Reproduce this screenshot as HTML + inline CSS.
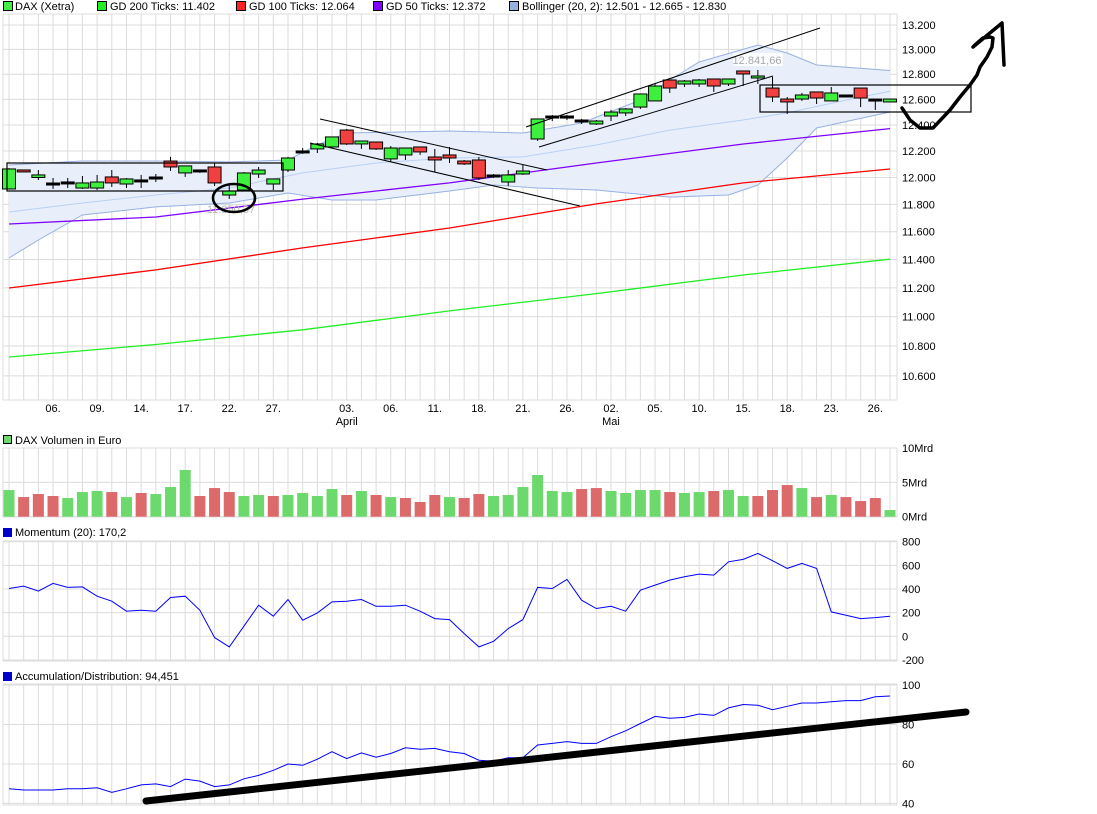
<!DOCTYPE html>
<html><head><meta charset="utf-8"><style>
body{margin:0;background:#fff;}
svg{display:block;font-family:"Liberation Sans",sans-serif;}
</style></head><body>
<svg id="c" width="1097" height="814" viewBox="0 0 1097 814"></svg>
<script>
// ---- data ----
const dates=["06.","09.","14.","17.","22.","27.","03.","06.","11.","18.","21.","26.","02.","05.","10.","15.","18.","23.","26."];
const dateIdx=[3,6,9,12,15,18,23,26,29,32,35,38,41,44,47,50,53,56,59];
const months=["April","Mai"];
const monthIdx=[23,41];
const opens=[11.914,12.049,12.0,11.951,11.959,11.921,11.921,12.004,11.951,11.974,11.996,12.124,12.034,12.049,12.079,11.869,11.906,12.026,11.951,12.056,12.193,12.216,12.231,12.361,12.254,12.269,12.140,12.170,12.231,12.147,12.170,12.124,12.132,12.011,11.966,12.026,12.292,12.462,12.462,12.431,12.408,12.470,12.494,12.540,12.588,12.754,12.722,12.722,12.762,12.722,12.818,12.770,12.690,12.603,12.603,12.659,12.588,12.627,12.690,12.595,12.580];
const closes=[12.064,12.045,12.019,11.951,11.959,11.959,11.966,11.959,11.989,11.974,11.996,12.079,12.087,12.049,11.959,11.899,12.034,12.056,11.989,12.147,12.193,12.254,12.308,12.254,12.269,12.216,12.223,12.223,12.193,12.132,12.147,12.102,11.996,12.011,12.019,12.041,12.447,12.462,12.462,12.431,12.431,12.501,12.525,12.643,12.706,12.690,12.746,12.754,12.706,12.762,12.802,12.786,12.619,12.580,12.635,12.611,12.651,12.627,12.611,12.595,12.603];
const highs=[12.07,12.052,12.056,11.996,11.996,12.011,12.019,12.056,11.996,12.019,12.026,12.155,12.087,12.056,12.109,11.944,12.041,12.079,11.989,12.155,12.223,12.262,12.308,12.369,12.269,12.269,12.238,12.223,12.231,12.216,12.231,12.132,12.155,12.026,12.056,12.094,12.447,12.478,12.478,12.447,12.439,12.517,12.533,12.643,12.722,12.754,12.754,12.762,12.762,12.762,12.818,12.834,12.778,12.619,12.651,12.659,12.698,12.635,12.690,12.603,12.603];
const lows=[11.91,12.04,11.981,11.914,11.921,11.914,11.906,11.929,11.921,11.921,11.966,12.049,12.004,12.034,11.936,11.840,11.899,11.996,11.906,12.041,12.178,12.185,12.223,12.246,12.216,12.208,12.117,12.132,12.170,12.041,12.109,12.094,11.981,11.996,11.936,12.019,12.277,12.431,12.439,12.408,12.400,12.431,12.470,12.525,12.588,12.651,12.698,12.698,12.659,12.706,12.706,12.722,12.580,12.486,12.588,12.564,12.588,12.619,12.540,12.517,12.595];
const maIdx=[0,10,20,30,40,50,60];
const gd200=[10.726,10.81,10.91,11.04,11.16,11.29,11.402];
const gd100=[11.199,11.326,11.483,11.627,11.803,11.959,12.064];
const gd50=[11.656,11.707,11.839,11.959,12.109,12.254,12.372];
const bbUpIdx=[0,5,10,15,19,21,23,30,35,39,43,45,47,51,53,55,60];
const bbUp=[12.094,12.124,12.124,12.117,12.132,12.246,12.338,12.354,12.338,12.416,12.595,12.754,12.898,13.036,12.971,12.874,12.83];
const bbLoIdx=[0,2,5,10,15,19,22,25,30,33,36,40,45,49,51,53,55,60];
const bbLo=[11.411,11.540,11.722,11.781,11.810,11.884,11.832,11.832,11.899,11.944,11.921,11.906,11.854,11.869,11.944,12.147,12.377,12.501];
const bbMidIdx=[0,5,10,15,20,25,30,35,40,45,50,53,57,60];
const bbMid=[11.744,11.810,11.869,11.921,12.034,12.109,12.147,12.155,12.246,12.361,12.439,12.494,12.595,12.665];
const priceTicks=[13.2,13.0,12.8,12.6,12.4,12.2,12.0,11.8,11.6,11.4,11.2,11.0,10.8,10.6];
const volumes=[3.88,2.86,3.30,3.01,2.72,3.59,3.74,3.59,2.86,3.45,3.30,4.32,6.80,3.01,4.17,3.59,3.01,3.16,3.01,3.16,3.45,3.01,4.03,3.16,3.74,3.16,2.86,2.72,2.14,3.16,2.86,2.72,3.30,3.01,3.16,4.32,6.07,3.74,3.59,4.03,4.17,3.74,3.45,3.88,3.88,3.59,3.45,3.59,3.74,3.88,3.01,3.01,3.88,4.61,4.17,2.86,3.16,2.86,2.28,2.72,0.97];
const volUp=[1,0,0,0,1,1,1,0,1,0,1,1,1,0,0,0,1,1,0,1,1,1,1,0,1,0,1,0,0,0,1,0,0,1,1,1,1,1,1,0,0,1,1,1,1,0,1,1,0,1,1,0,0,0,1,0,1,0,0,0,1];
const volTicks=[10,5,0];
const volTickLabels=["10Mrd","5Mrd","0Mrd"];
const momentum=[404,424,382,447,413,418,339,297,212,220,212,328,339,220,-11,-90,85,263,170,311,136,198,291,297,311,254,254,263,212,150,141,23,-90,-42,65,141,413,404,481,305,235,254,212,390,433,475,503,526,517,630,650,701,639,574,616,574,206,178,150,158,170];
const momTicks=[800,600,400,200,0,-200];
const adValues=[47.4,46.8,46.8,46.8,47.4,47.4,47.9,45.6,47.4,49.4,49.9,48.5,52.3,51.3,48.5,49.4,52.5,54.2,56.8,60.0,59.3,62.4,66.2,62.7,65.6,63.4,65.3,68.2,67.4,67.9,66.2,65.3,61.9,61.4,63.1,63.1,69.6,70.4,71.3,70.4,70.4,73.8,76.8,80.5,84.1,83.2,83.6,85.3,84.6,88.4,90.1,89.7,87.5,89.2,90.9,90.9,91.5,92.1,92.1,94.0,94.451];
const adTicks=[100,80,60,40];

// ---- scales ----
const N=opens.length;
const X=i=>9+i*(881/(N-1));
const Y=p=>25+1599.7*Math.log(13.2/p);
const YV=v=>516.7-v*6.87;
const YM=v=>636.3-v*(23.66/200);
const YA=v=>685+(100-v)*1.97375;
const NS="http://www.w3.org/2000/svg";
const svg=document.getElementById('c');
function el(tag,attrs,parent){const e=document.createElementNS(NS,tag);for(const k in attrs)e.setAttribute(k,attrs[k]);(parent||svg).appendChild(e);return e;}
function txt(s,x,y,attrs){const t=el('text',Object.assign({x:x,y:y,'font-size':11,fill:'#000'},attrs||{}));t.textContent=s;return t;}

// panels: [top,bottom]
const panels=[[14,400],[448,517],[541,661],[684,805]];
const gGrid=el('g',{});


panels.forEach(([t,b])=>{
  for(let i=0;i<N;i++){el('line',{x1:X(i),x2:X(i),y1:t,y2:b,stroke:'#dcdcdc','stroke-width':1},gGrid);}
  el('line',{x1:3,x2:3,y1:t,y2:b,stroke:'#dcdcdc'},gGrid);
  el('line',{x1:897,x2:897,y1:t,y2:b,stroke:'#dcdcdc'},gGrid);
  el('line',{x1:3,x2:897,y1:t,y2:t,stroke:'#dcdcdc'},gGrid);
  el('line',{x1:3,x2:897,y1:b,y2:b,stroke:'#dcdcdc'},gGrid);
});
// price grid + ticks
const gAxis=el('g',{});


priceTicks.forEach(p=>{
  el('line',{x1:3,x2:897,y1:Y(p),y2:Y(p),stroke:'#dcdcdc'},gGrid);
  const t=txt(p.toFixed(3),902,Y(p)+4);gAxis.appendChild(t);
});
// x labels
const gX=el('g',{});


dates.forEach((d,k)=>{const t=txt(d,X(dateIdx[k]),412,{'text-anchor':'middle'});gX.appendChild(t);});
months.forEach((m,k)=>{const t=txt(m,X(monthIdx[k]),425,{'text-anchor':'middle'});gX.appendChild(t);});

// bollinger band
function pts(idx,vals,f){return idx.map((i,k)=>X(i).toFixed(1)+','+f(vals[k]).toFixed(1));}
const band=el('polygon',{points:pts(bbUpIdx,bbUp,Y).concat(pts(bbLoIdx,bbLo,Y).reverse()).join(' '),fill:'#e8effb',stroke:'none'});


const bu=el('polyline',{points:pts(bbUpIdx,bbUp,Y).join(' '),fill:'none',stroke:'#97b0e0','stroke-width':1});


const bl=el('polyline',{points:pts(bbLoIdx,bbLo,Y).join(' '),fill:'none',stroke:'#97b0e0','stroke-width':1});


const bm=el('polyline',{points:pts(bbMidIdx,bbMid,Y).join(' '),fill:'none',stroke:'#b8d0f4','stroke-width':1});


// MAs
const l200=el('polyline',{points:pts(maIdx,gd200,Y).join(' '),fill:'none',stroke:'#22ee22','stroke-width':1.3});


const l100=el('polyline',{points:pts(maIdx,gd100,Y).join(' '),fill:'none',stroke:'#ff0000','stroke-width':1.3});


const l50=el('polyline',{points:pts(maIdx,gd50,Y).join(' '),fill:'none',stroke:'#8000ff','stroke-width':1.3});



// candles
for(let i=0;i<N;i++){
  const g=el('g',{});
  
  
  const x=X(i),o=opens[i],c=closes[i];
  el('line',{x1:x,x2:x,y1:Y(highs[i]),y2:Y(lows[i]),stroke:'#000','stroke-width':1},g);
  const top=Y(Math.max(o,c)),bot=Y(Math.min(o,c));
  if(bot-top<2){el('rect',{x:x-6.5,y:top-1,width:13,height:Math.max(2,bot-top+1),fill:c>o?'#3ef03e':(c<o?'#ee4040':'#000'),stroke:'#000','stroke-width':1},g);}
  else el('rect',{x:x-6.5,y:top,width:13,height:bot-top,fill:c>=o?'#3ef03e':'#f04040',stroke:'#000','stroke-width':1},g);
}

// volume
txt('10Mrd',902,YV(10)+4);
volTicks.forEach((v,k)=>{el('line',{x1:3,x2:897,y1:YV(v),y2:YV(v),stroke:'#dcdcdc'},gGrid);if(k>0){const t=txt(volTickLabels[k],902,YV(v)+4);}});
volumes.forEach((v,i)=>{
  const r=el('rect',{x:X(i)-5.5,y:YV(v),width:11,height:YV(0)-YV(v),fill:volUp[i]?'#6cd96c':'#dc6a6a'});
  
  
});
// momentum
momTicks.forEach(v=>{el('line',{x1:3,x2:897,y1:YM(v),y2:YM(v),stroke:'#dcdcdc'},gGrid);const t=txt(String(v),902,YM(v)+4);});
const ml=el('polyline',{points:momentum.map((v,i)=>X(i).toFixed(1)+','+YM(v).toFixed(1)).join(' '),fill:'none',stroke:'#0000ff','stroke-width':1});


// A/D
adTicks.forEach(v=>{el('line',{x1:3,x2:897,y1:YA(v),y2:YA(v),stroke:'#dcdcdc'},gGrid);const t=txt(String(v),902,YA(v)+4);});
const al=el('polyline',{points:adValues.map((v,i)=>X(i).toFixed(1)+','+YA(v).toFixed(1)).join(' '),fill:'none',stroke:'#0000ff','stroke-width':1});


</script>
<svg width="1097" height="814" style="position:absolute;left:0;top:0">
 <g font-family="Liberation Sans, sans-serif" font-size="11">
  <g>
   <rect x="3.5" y="1.5" width="9" height="9" fill="#44ee44" stroke="#000"/><text x="15" y="10">DAX (Xetra)</text>
   <rect x="97.5" y="1.5" width="9" height="9" fill="#22ee22" stroke="#000"/><text x="110" y="10">GD 200 Ticks: 11.402</text>
   <rect x="236.5" y="1.5" width="9" height="9" fill="#ff2222" stroke="#000"/><text x="249" y="10">GD 100 Ticks: 12.064</text>
   <rect x="373.5" y="1.5" width="9" height="9" fill="#8000ff" stroke="#000"/><text x="386" y="10">GD 50 Ticks: 12.372</text>
   <rect x="509.5" y="1.5" width="9" height="9" fill="#97b0e0" stroke="#000"/><text x="522" y="10">Bollinger (20, 2): 12.501 - 12.665 - 12.830</text>
  </g>
  <g><rect x="3.5" y="435.5" width="8" height="8" fill="#6cd96c" stroke="#000"/><text x="15" y="444">DAX Volumen in Euro</text></g>
  <g><rect x="3" y="528" width="9" height="9" fill="#0000cc"/><text x="15" y="536">Momentum (20): 170,2</text></g>
  <g><rect x="3" y="672" width="9" height="9" fill="#0000cc"/><text x="15" y="680">Accumulation/Distribution: 94,451</text></g>
  <rect x="733" y="53" width="50" height="13" fill="#fff" opacity="0.8"/>
  <text x="757" y="64" fill="#aaa" text-anchor="middle">12.841,66</text>
  <text x="231" y="213" fill="#bbb" text-anchor="middle">11.850,37</text>
 </g>
 <g fill="none" stroke="#000">
  <rect x="7" y="163" width="276" height="28" stroke-width="1.2"/>
  <rect x="760" y="85" width="211" height="27" stroke-width="1.2"/>
  <ellipse cx="234" cy="198" rx="21" ry="14" stroke-width="2.6"/>
  <line x1="320" y1="119" x2="547" y2="170"/>
  <line x1="310" y1="143" x2="580" y2="206"/>
  <line x1="526" y1="127" x2="820" y2="28"/>
  <line x1="539" y1="147" x2="773" y2="76"/>
  <polyline points="902,108 910,120 920,128 933,128 950,110 960,97 970,85 977,75 980,67 987,57 992,47 993,38 990,37 983,38 975,45 973,47 1002,23 1004,65" stroke-width="3.5" stroke-linejoin="round" stroke-linecap="round"/>
  <line x1="146" y1="801" x2="966" y2="712" stroke-width="7" stroke-linecap="round"/>
 </g>
</svg>
</body></html>
